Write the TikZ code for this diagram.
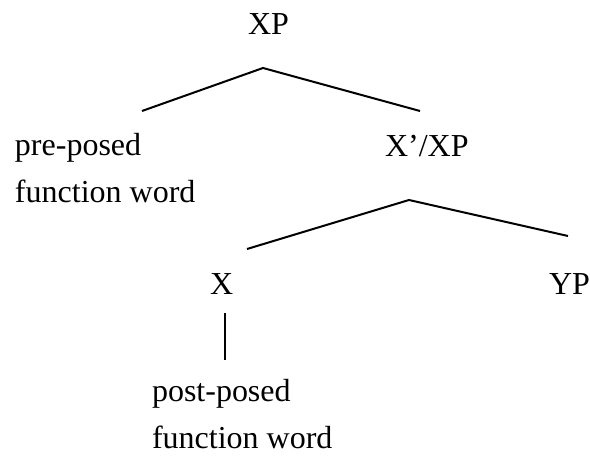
\documentclass[tikz,border=0pt]{standalone}
\usepackage{fontspec}
\setmainfont{Liberation Serif}
\usepackage{tikz}
\usetikzlibrary{positioning}
\tikzset{
  every node/.style={inner sep=0pt, outer sep=0pt},
  lab/.style ={font=\fontsize{32}{47}\selectfont, anchor=base west, align=left},
  br/.style  ={line width=2pt, draw=black},
}
\begin{document}
\begin{tikzpicture}[x=1pt, y=-1pt]
\useasboundingbox (0,0) rectangle (590,457);

% multi-line labels: base anchor sits on the last line
\node[lab] (xp)   at (248,35)  {XP};
\node[lab] (pre)  at (15,203)  {pre-posed\\function word};
\node[lab] (xbar) at (385,157) {X’/XP};
\node[lab] (x)    at (210,295) {X};
\node[lab] (yp)   at (549,295) {YP};
\node[lab] (post) at (152,449) {post-posed\\function word};

% branch points
\coordinate (apexA) at (263,68);
\coordinate (preT)  at (142,111);
\coordinate (xbarT) at (420,111);
\coordinate (apexB) at (409,200);
\coordinate (xT)    at (247,249);
\coordinate (ypT)   at (568,236);
\coordinate (xB)    at (225,313);
\coordinate (postT) at (225,360);

\draw[br] (preT) -- (apexA) -- (xbarT);
\draw[br] (xT) -- (apexB) -- (ypT);
\draw[br] (xB) -- (postT);

\end{tikzpicture}
\end{document}
